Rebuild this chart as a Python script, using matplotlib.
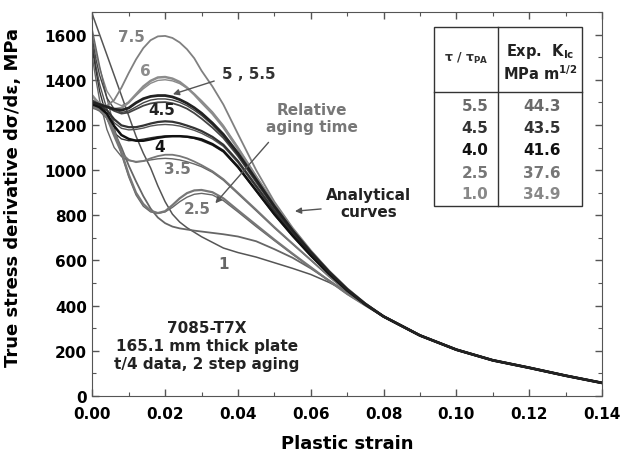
import matplotlib
matplotlib.use("Agg")
import matplotlib.pyplot as plt
from matplotlib.patches import Rectangle
from matplotlib.ticker import MultipleLocator, FormatStrFormatter

plt.rcParams["font.family"] = ["DejaVu Sans"]
plt.rcParams["font.weight"] = "bold"
plt.rcParams["mathtext.fontset"] = "custom"
plt.rcParams["mathtext.rm"] = "DejaVu Sans:bold"
plt.rcParams["mathtext.it"] = "DejaVu Sans:bold"
plt.rcParams["mathtext.bf"] = "DejaVu Sans:bold"

# strain grid (early part differs per curve, tail is common)
X_EARLY = [0.000, 0.001, 0.002, 0.004, 0.006, 0.008, 0.010, 0.012, 0.014, 0.016,
           0.018, 0.020, 0.022, 0.024, 0.026, 0.028, 0.030, 0.033, 0.036, 0.040,
           0.045, 0.050, 0.055, 0.060, 0.065, 0.070, 0.075]
X_TAIL = [0.08, 0.09, 0.10, 0.11, 0.12, 0.13, 0.14]
Y_TAIL = [352, 268, 205, 158, 125, 90, 58]

# experimental curves (relative aging time)
EXP_75 = [1290, 1285, 1282, 1285, 1310, 1365, 1430, 1490, 1540, 1575, 1592, 1594, 1585, 1565,
          1535, 1495, 1440, 1370, 1290, 1160, 1000, 860, 745, 645, 555, 477, 410]
EXP_6 = [1330, 1310, 1295, 1280, 1270, 1275, 1300, 1335, 1370, 1395, 1410, 1412, 1405, 1390,
         1365, 1335, 1300, 1250, 1190, 1095, 970, 848, 738, 640, 552, 474, 408]
EXP_55 = [1310, 1300, 1292, 1280, 1262, 1250, 1255, 1270, 1285, 1295, 1300, 1301, 1296, 1286,
          1272, 1252, 1228, 1188, 1142, 1062, 947, 832, 728, 633, 548, 471, 407]
EXP_5 = [1300, 1295, 1290, 1280, 1270, 1265, 1275, 1298, 1316, 1326, 1330, 1330, 1324, 1312,
         1296, 1276, 1252, 1208, 1158, 1075, 958, 840, 733, 637, 550, 472, 407]
EXP_45 = [1295, 1290, 1285, 1265, 1225, 1198, 1190, 1190, 1197, 1206, 1213, 1216, 1214, 1207,
          1197, 1186, 1173, 1147, 1112, 1040, 930, 820, 720, 628, 545, 469, 406]
EXP_4 = [1290, 1285, 1278, 1250, 1195, 1155, 1138, 1130, 1130, 1136, 1143, 1148, 1150, 1150,
         1148, 1143, 1136, 1115, 1085, 1015, 910, 805, 710, 622, 541, 467, 405]
EXP_35 = [1290, 1285, 1275, 1230, 1150, 1075, 1045, 1035, 1040, 1052, 1062, 1068, 1068, 1062,
          1052, 1038, 1022, 995, 960, 900, 825, 748, 675, 603, 530, 462, 404]
EXP_25 = [1280, 1275, 1268, 1240, 1170, 1080, 980, 900, 850, 820, 810, 818, 845, 875,
          898, 910, 912, 902, 875, 822, 757, 692, 630, 570, 510, 452, 401]
EXP_1 = [1275, 1270, 1262, 1230, 1170, 1100, 1020, 950, 885, 830, 790, 765, 750, 742,
         737, 732, 728, 722, 716, 706, 685, 650, 612, 565, 512, 457, 405]

# analytical curves
ANA_6 = [1600, 1520, 1450, 1350, 1300, 1285, 1300, 1330, 1360, 1384, 1397, 1400, 1395, 1383,
         1363, 1338, 1308, 1258, 1198, 1102, 975, 851, 740, 641, 553, 475, 408]
ANA_5 = [1580, 1490, 1420, 1320, 1270, 1255, 1262, 1280, 1298, 1310, 1315, 1315, 1310, 1300,
         1285, 1265, 1242, 1200, 1150, 1068, 952, 836, 730, 635, 549, 471, 407]
ANA_45 = [1560, 1460, 1380, 1270, 1210, 1185, 1178, 1180, 1186, 1195, 1200, 1202, 1200, 1195,
          1186, 1176, 1163, 1138, 1105, 1033, 925, 816, 717, 626, 544, 468, 406]
ANA_4 = [1540, 1440, 1350, 1230, 1165, 1138, 1130, 1132, 1137, 1143, 1148, 1151, 1152, 1150,
         1146, 1140, 1130, 1110, 1080, 1010, 906, 802, 708, 620, 540, 466, 405]
ANA_35 = [1500, 1400, 1310, 1180, 1100, 1060, 1042, 1038, 1040, 1045, 1050, 1052, 1050, 1045,
          1037, 1027, 1015, 990, 955, 895, 820, 744, 672, 601, 529, 461, 404]
ANA_25 = [1620, 1540, 1460, 1320, 1190, 1070, 970, 890, 840, 815, 808, 815, 835, 860,
          880, 893, 897, 890, 865, 815, 750, 688, 627, 569, 509, 451, 401]
ANA_1 = [1690, 1645, 1600, 1510, 1420, 1330, 1240, 1150, 1075, 1010, 930, 860, 805, 770,
         745, 725, 705, 680, 655, 635, 615, 590, 565, 538, 503, 462, 410]

# table values
TAU = ["5.5", "4.5", "4.0", "2.5", "1.0"]
KIC = ["44.3", "43.5", "41.6", "37.6", "34.9"]
ROW_COLORS = ["#6a6a6a", "#333333", "#111111", "#777777", "#888888"]

curves = [
    (ANA_6, "#8a8a8a", 1.0), (ANA_1, "#555555", 1.1),
    (ANA_25, "#666666", 1.0), (ANA_35, "#666666", 1.0), (ANA_45, "#555555", 1.0),
    (ANA_4, "#333333", 1.0), (ANA_5, "#444444", 1.0),
    (EXP_75, "#808080", 1.3), (EXP_6, "#8c8c8c", 1.8), (EXP_1, "#666666", 1.3),
    (EXP_25, "#777777", 1.6), (EXP_35, "#777777", 1.3), (EXP_55, "#444444", 1.3),
    (EXP_45, "#333333", 1.6), (EXP_4, "#111111", 1.8), (EXP_5, "#222222", 2.0),
]

fig = plt.figure(figsize=(6.23, 4.52), dpi=100)
ax = fig.add_axes([0.1482, 0.1217, 0.8181, 0.8496])

for ys, col, lw in curves:
    ax.plot(X_EARLY + X_TAIL, ys + Y_TAIL, color=col, lw=lw, solid_capstyle="round")

ax.set_xlim(0, 0.14)
ax.set_ylim(0, 1700)
ax.xaxis.set_major_locator(MultipleLocator(0.02))
ax.xaxis.set_minor_locator(MultipleLocator(0.01))
ax.xaxis.set_major_formatter(FormatStrFormatter("%.2f"))
ax.yaxis.set_major_locator(MultipleLocator(200))
ax.yaxis.set_minor_locator(MultipleLocator(100))
ax.tick_params(which="both", direction="in", top=True, right=True, color="#555555",
               labelsize=11)
ax.tick_params(axis="x", pad=7)
ax.tick_params(axis="y", pad=4)
ax.tick_params(which="major", length=5, width=1)
ax.tick_params(which="minor", length=3, width=0.8)
for s in ax.spines.values():
    s.set_color("#555555")
for lab in ax.get_xticklabels() + ax.get_yticklabels():
    lab.set_fontweight("bold")

ax.set_xlabel("Plastic strain", fontsize=13, fontweight="bold")
ax.set_ylabel("True stress derivative dσ/dε, MPa", fontsize=13, fontweight="bold")
ax.xaxis.set_label_coords(0.5, -0.1)
ax.yaxis.set_label_coords(-0.138, 0.52)

# curve labels
lab_kw = dict(fontsize=11, fontweight="bold", ha="center", va="center")
ax.text(0.0108, 1590, "7.5", color="#808080", **lab_kw)
ax.text(0.0146, 1443, "6", color="#8c8c8c", **lab_kw)
ax.text(0.0429, 1428, "5 , 5.5", color="#333333", **lab_kw)
ax.text(0.0191, 1268, "4.5", color="#222222", **lab_kw)
ax.text(0.0185, 1103, "4", color="#111111", **lab_kw)
ax.text(0.0234, 1007, "3.5", color="#777777", **lab_kw)
ax.text(0.0288, 832, "2.5", color="#777777", **lab_kw)
ax.text(0.0361, 585, "1", color="#666666", **lab_kw)

arrow = dict(arrowstyle="-|>", color="#555555", lw=1.0, mutation_scale=9)
ax.annotate("", xy=(0.0214, 1332), xytext=(0.0342, 1398), arrowprops=arrow)
ax.text(0.0603, 1232, "Relative\naging time", color="#777777", fontsize=11,
        fontweight="bold", ha="center", va="center", linespacing=1.15)
ax.annotate("", xy=(0.0333, 844), xytext=(0.0489, 1132), arrowprops=arrow)
ax.text(0.0759, 855, "Analytical\ncurves", color="#222222", fontsize=11,
        fontweight="bold", ha="center", va="center", linespacing=1.15)
ax.annotate("", xy=(0.0549, 817), xytext=(0.0636, 829), arrowprops=arrow)

ax.text(0.0315, 223, "7085-T7X\n165.1 mm thick plate\nt/4 data, 2 step aging",
        color="#222222", fontsize=11, fontweight="bold", ha="center", va="center",
        linespacing=1.25)

# table
tl, tr, tb, tt = 0.671, 0.961, 0.495, 0.961
ax.add_patch(Rectangle((tl, tb), tr - tl, tt - tb, transform=ax.transAxes,
                       facecolor="white", edgecolor="#333333", lw=1.0, zorder=5))
ax.plot([0.796, 0.796], [tb, tt], transform=ax.transAxes, color="#333333", lw=1.0, zorder=6)
ax.plot([tl, tr], [0.792, 0.792], transform=ax.transAxes, color="#333333", lw=1.0, zorder=6)
ax.text(0.734, 0.882, r"τ / τ$_{\rm PA}$", transform=ax.transAxes, fontsize=9,
        fontweight="bold", ha="center", va="center", color="#333333", zorder=7)
ax.text(0.879, 0.899, r"Exp.  K$_{\rm Ic}$", transform=ax.transAxes, fontsize=10.5,
        fontweight="bold", ha="center", va="center", color="#222222", zorder=7)
ax.text(0.879, 0.843, r"MPa m$^{1/2}$", transform=ax.transAxes, fontsize=10.5,
        fontweight="bold", ha="center", va="center", color="#222222", zorder=7)
row_y = [0.756, 0.698, 0.641, 0.583, 0.526]
for t, k, c, yy in zip(TAU, KIC, ROW_COLORS, row_y):
    ax.text(0.751, yy, t, transform=ax.transAxes, fontsize=11, fontweight="bold",
            ha="center", va="center", color=c, zorder=7)
    ax.text(0.882, yy, k, transform=ax.transAxes, fontsize=11, fontweight="bold",
            ha="center", va="center", color=c, zorder=7)

fig.savefig("out.png", dpi=100, facecolor="white")
